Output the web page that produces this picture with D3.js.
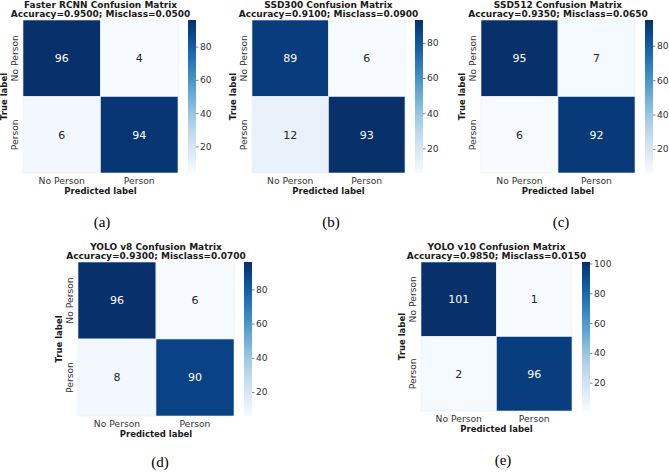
<!DOCTYPE html>
<html>
<head>
<meta charset="utf-8">
<script src="https://cdn.jsdelivr.net/npm/d3@7"></script>
<style>
  html, body { margin: 0; padding: 0; background: #fff; }
  svg { display: block; }
</style>
</head>
<body>
<svg id="chart" width="669" height="472"></svg>
<script>
// ---- Data ----
const modelNames = ["Faster RCNN", "SSD300", "SSD512", "YOLO v8", "YOLO v10"];
const classLabels = ["No Person", "Person"];
const accuracyValues = [0.9500, 0.9100, 0.9350, 0.9300, 0.9850];
const misclassValues = [0.0500, 0.0900, 0.0650, 0.0700, 0.0150];
const matrixFasterRCNN = [[96, 4], [6, 94]];
const matrixSSD300 = [[89, 6], [12, 93]];
const matrixSSD512 = [[95, 7], [6, 92]];
const matrixYOLOv8 = [[96, 6], [8, 90]];
const matrixYOLOv10 = [[101, 1], [2, 96]];
const matrices = [matrixFasterRCNN, matrixSSD300, matrixSSD512, matrixYOLOv8, matrixYOLOv10];
const colorbarTicks = [[20, 40, 60, 80], [20, 40, 60, 80], [20, 40, 60, 80], [20, 40, 60, 80], [20, 40, 60, 80, 100]];
const captions = ["(a)", "(b)", "(c)", "(d)", "(e)"];

// ---- Layout (positions only) ----
const layout = [
  { x: 23,  y: 20,  w: 155, h: 153, cb: 188, capX: 102, capY: 227 },
  { x: 252, y: 20,  w: 153, h: 153, cb: 415, capX: 331, capY: 227 },
  { x: 481, y: 20,  w: 154, h: 153, cb: 645, capX: 561, capY: 227 },
  { x: 78,  y: 262, w: 156, h: 154, cb: 244, capX: 160, capY: 467 },
  { x: 421, y: 262, w: 151, h: 149, cb: 582, capX: 503, capY: 465 }
];
const cbW = 8;
const FONT = "'DejaVu Sans', sans-serif";

const svg = d3.select("#chart");
const defs = svg.append("defs");

matrices.forEach((m, i) => {
  const L = layout[i];
  const flat = m.flat();
  const vmin = d3.min(flat), vmax = d3.max(flat);
  const color = d3.scaleSequential(d3.interpolateBlues).domain([vmin, vmax]);

  const g = svg.append("g");
  const xs = d3.scaleBand().domain(classLabels).range([L.x, L.x + L.w]);
  const ys = d3.scaleBand().domain(classLabels).range([L.y, L.y + L.h]);

  const cells = [];
  m.forEach((row, r) => row.forEach((v, c) => cells.push({ r, c, v })));

  g.selectAll("rect.cell").data(cells).enter().append("rect")
    .attr("x", d => xs(classLabels[d.c]))
    .attr("y", d => ys(classLabels[d.r]))
    .attr("width", xs.bandwidth())
    .attr("height", ys.bandwidth())
    .attr("fill", d => color(d.v))
    .attr("stroke", "#e6eef6")
    .attr("stroke-width", 0.6);

  g.selectAll("text.ann").data(cells).enter().append("text")
    .attr("x", d => xs(classLabels[d.c]) + xs.bandwidth() / 2)
    .attr("y", d => ys(classLabels[d.r]) + ys.bandwidth() / 2)
    .attr("dy", "0.36em")
    .attr("text-anchor", "middle")
    .attr("font-family", FONT)
    .attr("font-size", 11)
    .attr("fill", d => (d.v - vmin) / (vmax - vmin) > 0.5 ? "#ffffff" : "#262626")
    .text(d => d.v);

  // titles
  g.append("text")
    .attr("x", L.x + L.w / 2).attr("y", L.y - 12)
    .attr("text-anchor", "middle").attr("font-family", FONT)
    .attr("font-size", 9).attr("font-weight", "bold").attr("fill", "#1a1a1a")
    .text(modelNames[i] + " Confusion Matrix");
  g.append("text")
    .attr("x", L.x + L.w / 2).attr("y", L.y - 3)
    .attr("text-anchor", "middle").attr("font-family", FONT)
    .attr("font-size", 9).attr("font-weight", "bold").attr("fill", "#1a1a1a")
    .text("Accuracy=" + accuracyValues[i].toFixed(4) + "; Misclass=" + misclassValues[i].toFixed(4));

  // x tick labels
  const xAxis = d3.axisBottom(xs).tickSize(0).tickPadding(4);
  const xg = g.append("g").attr("transform", `translate(0,${L.y + L.h})`).call(xAxis);
  xg.select(".domain").remove();
  xg.selectAll("text").attr("font-family", FONT).attr("font-size", 9.2).attr("fill", "#333");

  // y tick labels (rotated)
  g.selectAll("text.ytick").data(classLabels).enter().append("text")
    .attr("transform", d => `translate(${L.x - 5},${ys(d) + ys.bandwidth() / 2}) rotate(-90)`)
    .attr("text-anchor", "middle")
    .attr("font-family", FONT).attr("font-size", 9.2).attr("fill", "#333")
    .text(d => d);

  // axis titles
  g.append("text")
    .attr("x", L.x + L.w / 2).attr("y", L.y + L.h + 21)
    .attr("text-anchor", "middle").attr("font-family", FONT)
    .attr("font-size", 8.5).attr("font-weight", "bold").attr("fill", "#1a1a1a")
    .text("Predicted label");
  g.append("text")
    .attr("transform", `translate(${L.x - 16},${L.y + L.h / 2}) rotate(-90)`)
    .attr("text-anchor", "middle").attr("font-family", FONT)
    .attr("font-size", 8.5).attr("font-weight", "bold").attr("fill", "#1a1a1a")
    .text("True label");

  // colorbar
  const gradId = "grad" + i;
  const grad = defs.append("linearGradient").attr("id", gradId)
    .attr("x1", 0).attr("y1", 1).attr("x2", 0).attr("y2", 0);
  d3.range(0, 1.0001, 0.1).forEach(t => {
    grad.append("stop").attr("offset", t).attr("stop-color", color(vmin + t * (vmax - vmin)));
  });
  g.append("rect").attr("x", L.cb).attr("y", L.y).attr("width", cbW).attr("height", L.h)
    .attr("fill", `url(#${gradId})`);
  const cs = d3.scaleLinear().domain([vmin, vmax]).range([L.y + L.h, L.y]);
  const cAxis = d3.axisRight(cs).tickValues(colorbarTicks[i]).tickSize(2.5).tickPadding(1.5);
  const cg = g.append("g").attr("transform", `translate(${L.cb + cbW},0)`).call(cAxis);
  cg.select(".domain").remove();
  cg.selectAll("line").attr("stroke", "#333").attr("stroke-width", 0.6);
  cg.selectAll("text").attr("font-family", FONT).attr("font-size", 9.2).attr("fill", "#333");

  // caption
  svg.append("text")
    .attr("x", L.capX).attr("y", L.capY)
    .attr("text-anchor", "middle")
    .attr("font-family", "'Liberation Serif', 'Times New Roman', serif")
    .attr("font-size", 15).attr("fill", "#000")
    .text(captions[i]);
});
</script>
</body>
</html>
